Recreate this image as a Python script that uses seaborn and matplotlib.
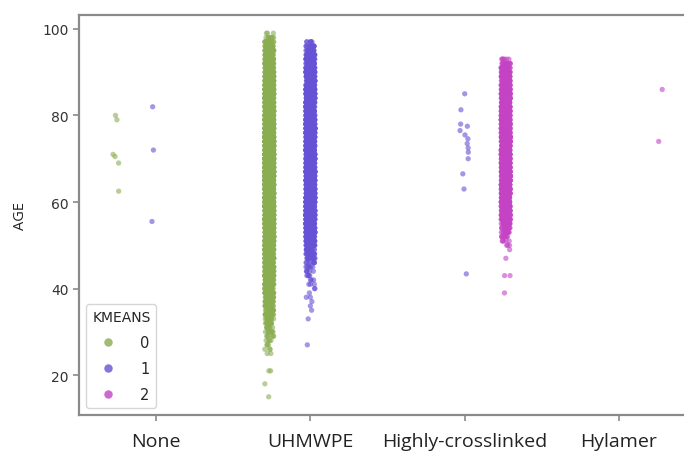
import numpy as np
import pandas as pd
import matplotlib
matplotlib.use("Agg")
import matplotlib.pyplot as plt
import seaborn as sns

# Implant material categories and k-means cluster labels
materials = ["None", "UHMWPE", "Highly-crosslinked", "Hylamer"]
clusters = [0, 1, 2]
palette = {0: "#8aad52", 1: "#6652d4", 2: "#c443c4"}

# Sparse groups: individual patient ages
none_c0 = [80, 79, 71, 70.5, 69, 62.5]
none_c1 = [82, 72, 55.5]
hxl_c1 = [85, 81.3, 78, 77.5, 76.5, 75.5, 74.6, 73.5, 72.5, 71.5, 70, 66.5, 63, 43.4]
hylamer_c2 = [86, 74]

# Dense groups: number of patients at each age
uhmwpe_c0_age = list(range(15, 100))
uhmwpe_c0_n = [1, 0, 0, 1, 0, 0, 2, 0, 0, 0,                  # 15-24
               2, 3, 3, 4, 6, 8, 10, 12, 14, 16,              # 25-34
               18, 20, 23, 26, 29, 32, 36, 40, 44, 48,        # 35-44
               52, 56, 60, 64, 68, 72, 76, 80, 84, 88,        # 45-54
               92, 96, 100, 104, 108, 110, 112, 114, 116, 118,  # 55-64
               120, 120, 120, 120, 118, 116, 114, 112, 110, 108,  # 65-74
               106, 104, 100, 96, 92, 88, 84, 80, 76, 72,     # 75-84
               68, 64, 60, 56, 52, 48, 44, 40, 36, 32,        # 85-94
               28, 22, 16, 8, 3]                              # 95-99

uhmwpe_c1_age = list(range(27, 98))
uhmwpe_c1_n = [1, 0, 0, 0, 0, 0, 1, 0, 1, 1,                  # 27-36
               1, 2, 1, 2, 3, 3, 4, 5, 6, 8,                  # 37-46
               12, 18, 26, 34, 42, 50, 56, 62, 68, 72,        # 47-56
               76, 80, 82, 84, 86, 88, 88, 88, 88, 88,        # 57-66
               88, 86, 86, 84, 84, 82, 80, 78, 76, 74,        # 67-76
               72, 70, 68, 66, 64, 62, 60, 58, 56, 54,        # 77-86
               52, 50, 48, 46, 44, 40, 36, 30, 22, 14,        # 87-96
               6]                                             # 97

hxl_c2_age = list(range(39, 94))
hxl_c2_n = [1, 0, 0, 0, 2, 0, 0, 0, 1, 0,                     # 39-48
            1, 3, 5, 8, 12, 16, 22, 28, 34, 40,               # 49-58
            46, 52, 56, 60, 62, 64, 64, 64, 64, 64,           # 59-68
            64, 64, 64, 62, 62, 62, 60, 60, 60, 58,           # 69-78
            58, 58, 56, 56, 56, 56, 54, 54, 54, 52,           # 79-88
            48, 40, 30, 18, 6]                                # 89-93


def rows(material, cluster, ages, counts=None):
    ages = np.asarray(ages, dtype=float)
    if counts is not None:
        ages = np.repeat(ages, counts)
    return pd.DataFrame({"IMPLANT": material, "KMEANS": cluster, "AGE": ages})


df = pd.concat([
    rows("None", 0, none_c0),
    rows("None", 1, none_c1),
    rows("UHMWPE", 0, uhmwpe_c0_age, uhmwpe_c0_n),
    rows("UHMWPE", 1, uhmwpe_c1_age, uhmwpe_c1_n),
    rows("Highly-crosslinked", 1, hxl_c1),
    rows("Highly-crosslinked", 2, hxl_c2_age, hxl_c2_n),
    rows("Hylamer", 2, hylamer_c2),
], ignore_index=True)

sns.set_theme(style="ticks")
plt.rcParams["font.family"] = ["DejaVu Sans"]

np.random.seed(3)
fig = plt.figure(figsize=(6.84, 4.52), dpi=100)
ax = fig.add_axes([79 / 684, 36 / 452, 617 / 684, 400 / 452])

sns.stripplot(data=df, x="IMPLANT", y="AGE", hue="KMEANS", order=materials,
              hue_order=clusters, palette=palette, dodge=True, jitter=0.09,
              size=3.8, alpha=0.6, linewidth=0, ax=ax)

for side in ax.spines.values():
    side.set_color("#8a8a8a")
    side.set_linewidth(1.6)
ax.tick_params(axis="both", color="#8a8a8a", width=1.2, length=4)
ax.tick_params(axis="y", labelsize=10, labelcolor="#333333")
ax.tick_params(axis="x", labelsize=14, labelcolor="#222222", pad=8)
for lab in ax.get_xticklabels():
    lab.set_fontfamily("Open Sans")

ax.set_yticks([20, 40, 60, 80, 100])
ax.set_xlabel("")
ax.set_ylabel("AGE", fontsize=10.5, family="Open Sans", color="#222222", labelpad=10)

leg = ax.legend(title="KMEANS", loc="lower left", fontsize=10.5, title_fontsize=10,
                markerscale=1.6, labelspacing=0.75, handletextpad=1.2,
                frameon=True)
leg.get_frame().set_edgecolor("#cccccc")
for h in leg.legend_handles:
    h.set_alpha(0.8)

fig.savefig("out.png", dpi=100)
